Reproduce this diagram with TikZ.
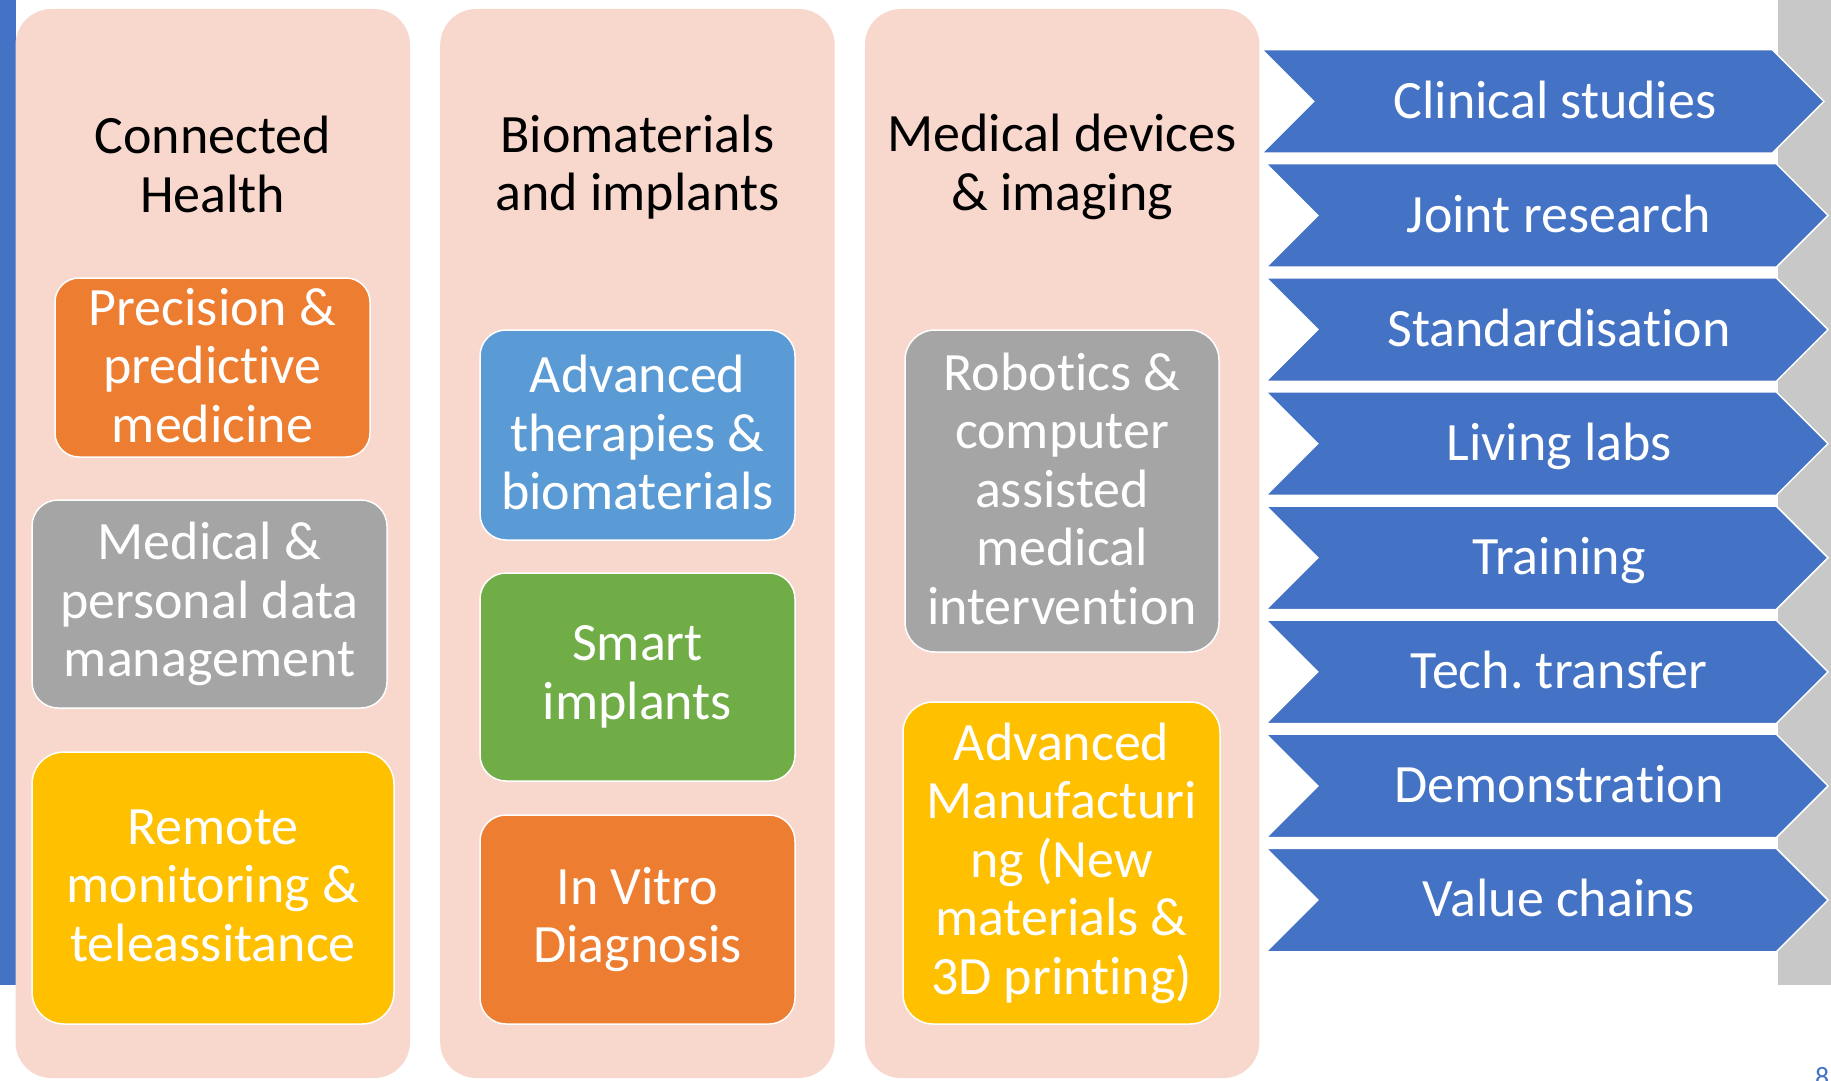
\documentclass[tikz,border=0pt]{standalone}
\usepackage{fontspec}
\setmainfont{Carlito}[Ligatures=NoCommon]
\usetikzlibrary{shapes.symbols}
\frenchspacing

\definecolor{panelpink}{HTML}{F8D7CD}
\definecolor{sideblue}{HTML}{4472C4}
\definecolor{sidegray}{HTML}{C8C8C8}
\definecolor{chevblue}{HTML}{4472C4}
\definecolor{boxorange}{HTML}{ED7D31}
\definecolor{boxgray}{HTML}{A5A5A5}
\definecolor{boxyellow}{HTML}{FFC000}
\definecolor{boxblue}{HTML}{5B9BD5}
\definecolor{boxgreen}{HTML}{70AD47}

\newcommand\boxfont{\fontsize{54}{58.5}\selectfont}
\newcommand\tstrut{\rule[-5pt]{0pt}{58.5pt}}
\newcommand\cstrut{\rule[-12.5pt]{0pt}{58.5pt}}

\tikzset{
  panel/.style={fill=panelpink, rounded corners=36pt, minimum width=394.5pt,
    minimum height=1069pt, inner sep=0pt},
  heading/.style={align=center, font=\boxfont, inner sep=0pt,
    execute at begin node=\tstrut, execute at end node=\tstrut},
  topic/.style={draw=white, line width=1.5pt, rounded corners=26pt, text=white,
    align=center, inner sep=0pt, font=\boxfont,
    execute at begin node=\tstrut, execute at end node=\tstrut},
  chev/.style={signal, signal to=east, signal from=west, fill=chevblue,
    draw=white, line width=1.5pt, minimum width=562pt, minimum height=103.5pt,
    inner sep=0pt},
  chevtext/.style={text=white, font=\boxfont, inner sep=0pt,
    execute at begin node=\cstrut}
}

\begin{document}
\begin{tikzpicture}[x=1pt,y=-1pt]
\useasboundingbox (0,0) rectangle (1831,1081);
% strips at the two sides
\fill[sideblue] (0,0) rectangle (15.5,985);
\fill[sidegray] (1778,0) rectangle (1831,985);
% the three columns
\node[panel] (conn) at (212.75,543.5) {};
\node[panel] (bio) at (637.45,543.5) {};
\node[panel] (devs) at (1062.15,543.5) {};
% column titles
\node[heading] (connT) at (212.75,167) {Connected\\Health};
\node[heading] (bioT) at (637.45,167) {Biomaterials\\and implants};
\node[heading] (devsT) at (1062.15,167) {Medical devices\\\& imaging};
% topics -- connected health
\node[topic, fill=boxorange, rounded corners=24pt, minimum width=315pt, minimum height=179pt]
  (prec) at (212.5,367.5) {Precision \&\\predictive\\medicine};
\node[topic, fill=boxgray, minimum width=355pt, minimum height=208pt]
  (data) at (209.5,604) {Medical \&\\personal data\\management};
\node[topic, fill=boxyellow, rounded corners=32pt, minimum width=362pt, minimum height=272pt]
  (remote) at (213,888) {Remote\\monitoring \&\\teleassitance};
% topics -- biomaterials
\node[topic, fill=boxblue, minimum width=315pt, minimum height=210pt]
  (advth) at (637.5,435) {Advanced\\therapies \&\\biomaterials};
\node[topic, fill=boxgreen, minimum width=315pt, minimum height=208pt]
  (smart) at (637.5,677) {Smart\\implants};
\node[topic, fill=boxorange, minimum width=315pt, minimum height=209pt]
  (ivd) at (637.5,919.5) {In Vitro\\Diagnosis};
% topics -- devices
\node[topic, fill=boxgray, rounded corners=30pt, minimum width=314pt, minimum height=322pt]
  (robot) at (1062,491) {Robotics \&\\computer\\assisted\\medical\\intervention};
\node[topic, fill=boxyellow, rounded corners=30pt, minimum width=317pt, minimum height=322pt]
  (manuf) at (1061.5,863) {Advanced\\Manufacturi\\ng (New\\materials \&\\3D printing)};
% the chevrons
\foreach \lab [count=\i from 0] in {Clinical studies, Joint research, Standardisation,
    Living labs, Training, Tech. transfer, Demonstration, Value chains} {
  \pgfmathsetmacro\cy{101.35+114.1*\i}
  \pgfmathsetmacro\cx{ifthenelse(\i==0,1543,1547)}
  \node[chev] (chev\i) at (\cx,\cy) {};
  \node[chevtext] (lab\i) at ([xshift=12pt]chev\i.center) {\lab};
}
% page number
\node[anchor=base west, text=sideblue, font=\fontsize{28}{30}\selectfont, inner sep=0pt]
  (pnum) at (1815,1086) {8};
\end{tikzpicture}
\end{document}
